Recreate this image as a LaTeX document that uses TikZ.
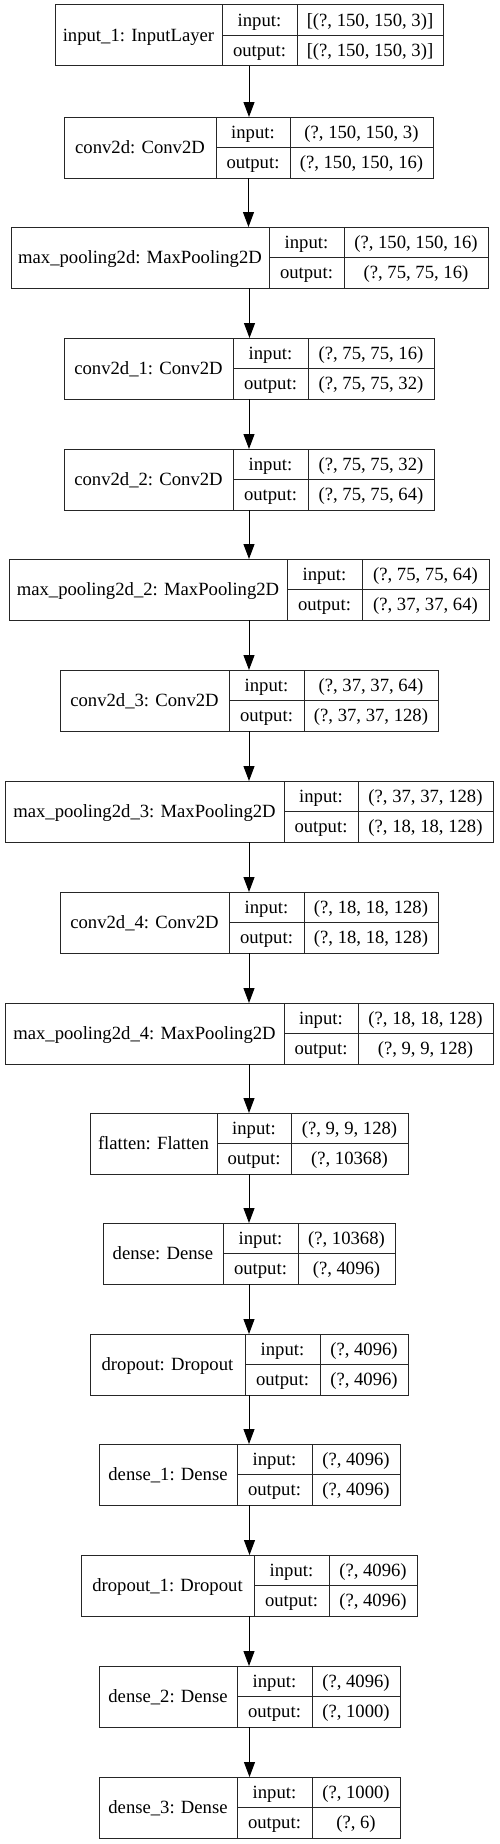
\documentclass[tikz,border=0pt]{standalone}
\usepackage{fontspec}
\setmainfont{Liberation Serif}
\usetikzlibrary{arrows.meta}
\tikzset{
  cell/.style={draw=black!85, line width=1pt, inner sep=0pt, outer sep=0pt,
    minimum height=61pt, text height=12.3pt, text depth=0pt, anchor=north west},
  half/.style={minimum height=30.5pt},
  flow/.style={line width=1pt, -{Triangle[length=15pt,width=11pt]}}
}
% #1 name, #2 top, #3 left, #4 first divider, #5 second divider, #6 right
\newcommand{\kerasrec}[9]{%
  \node[cell, minimum width={#6pt-#3pt}] (#1) at (#3,#2) {};
  \node[cell, minimum width={#4pt-#3pt}] (#1-name) at (#3,#2) {#7};
  \node[cell, half, minimum width={#5pt-#4pt}] (#1-inkey) at (#4,#2) {input:};
  \node[cell, half, minimum width={#5pt-#4pt}] (#1-outkey) at (#4,{#2+30.5}) {output:};
  \node[cell, half, minimum width={#6pt-#5pt}] (#1-in) at (#5,#2) {#8};
  \node[cell, half, minimum width={#6pt-#5pt}] (#1-out) at (#5,{#2+30.5}) {#9};
}
\begin{document}
\begin{tikzpicture}[x=1pt, y=-1pt, font=\fontsize{18.67}{22}\selectfont]
\useasboundingbox (0,0) rectangle (499,1844);
\kerasrec{input1}{5}{55}{222}{297}{443}{input\_1: InputLayer}{[(?, 150, 150, 3)]}{[(?, 150, 150, 3)]}
\kerasrec{conv2d}{117}{64}{216}{290}{433}{conv2d: Conv2D}{(?, 150, 150, 3)}{(?, 150, 150, 16)}
\kerasrec{pool}{227}{11}{269}{344}{488}{max\_pooling2d: MaxPooling2D}{(?, 150, 150, 16)}{(?, 75, 75, 16)}
\kerasrec{conv2d1}{338}{64}{233}{308}{434}{conv2d\_1: Conv2D}{(?, 75, 75, 16)}{(?, 75, 75, 32)}
\kerasrec{conv2d2}{449}{64}{233}{308}{434}{conv2d\_2: Conv2D}{(?, 75, 75, 32)}{(?, 75, 75, 64)}
\kerasrec{pool2}{559}{9}{287}{362}{489}{max\_pooling2d\_2: MaxPooling2D}{(?, 75, 75, 64)}{(?, 37, 37, 64)}
\kerasrec{conv2d3}{670}{60}{229}{304}{438}{conv2d\_3: Conv2D}{(?, 37, 37, 64)}{(?, 37, 37, 128)}
\kerasrec{pool3}{781}{5}{284}{358}{493}{max\_pooling2d\_3: MaxPooling2D}{(?, 37, 37, 128)}{(?, 18, 18, 128)}
\kerasrec{conv2d4}{892}{60}{229}{304}{438}{conv2d\_4: Conv2D}{(?, 18, 18, 128)}{(?, 18, 18, 128)}
\kerasrec{pool4}{1003}{5}{284}{358}{493}{max\_pooling2d\_4: MaxPooling2D}{(?, 18, 18, 128)}{(?, 9, 9, 128)}
\kerasrec{flatten}{1113}{90}{217}{291}{408}{flatten: Flatten}{(?, 9, 9, 128)}{(?, 10368)}
\kerasrec{dense}{1223}{103}{223}{298}{395}{dense: Dense}{(?, 10368)}{(?, 4096)}
\kerasrec{dropout}{1334}{90}{245}{320}{408}{dropout: Dropout}{(?, 4096)}{(?, 4096)}
\kerasrec{dense1}{1444}{99}{237}{312}{400}{dense\_1: Dense}{(?, 4096)}{(?, 4096)}
\kerasrec{dropout1}{1555}{81}{254}{329}{417}{dropout\_1: Dropout}{(?, 4096)}{(?, 4096)}
\kerasrec{dense2}{1666}{99}{237}{312}{400}{dense\_2: Dense}{(?, 4096)}{(?, 1000)}
\kerasrec{dense3}{1777}{99}{237}{312}{400}{dense\_3: Dense}{(?, 1000)}{(?, 6)}
\foreach \a/\b in {input1/conv2d, conv2d/pool, pool/conv2d1, conv2d1/conv2d2, conv2d2/pool2,
  pool2/conv2d3, conv2d3/pool3, pool3/conv2d4, conv2d4/pool4, pool4/flatten, flatten/dense,
  dense/dropout, dropout/dense1, dense1/dropout1, dropout1/dense2, dense2/dense3}
  \draw[flow] (\a.south) -- (\a.south |- \b.north);
\end{tikzpicture}
\end{document}
